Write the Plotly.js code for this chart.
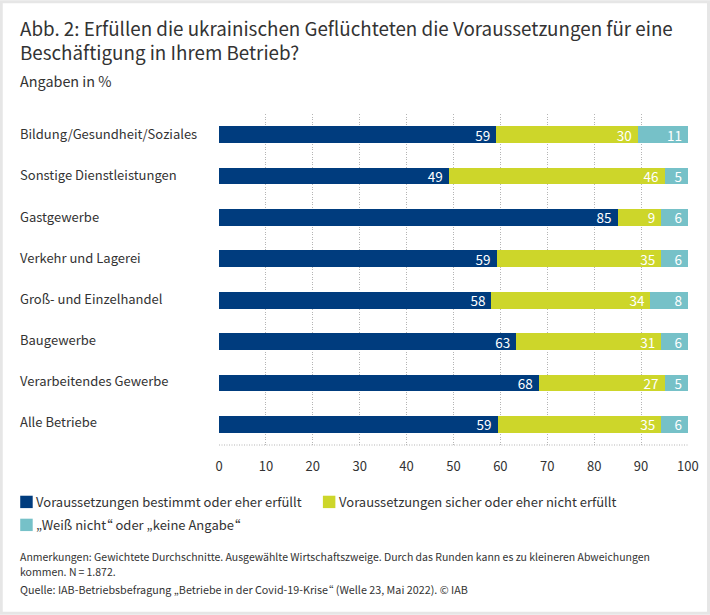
<!DOCTYPE html>
<html><head><meta charset="utf-8">
<script src="https://cdn.plot.ly/plotly-3.0.1.min.js"></script>
<style>html,body{margin:0;padding:0;background:#fff}#c{width:710px;height:615px}
svg text{font-feature-settings:"palt" 1;}</style>
</head><body><div id="c"></div>
<script>
const categories = ["Bildung/Gesundheit/Soziales","Sonstige Dienstleistungen","Gastgewerbe","Verkehr und Lagerei","Groß- und Einzelhandel","Baugewerbe","Verarbeitendes Gewerbe","Alle Betriebe"];
const met = [59.1,49,85,59.2,58.1,63.4,68.2,59.4];
const notMet = [30.2,46,9.3,35.1,33.9,30.9,26.8,34.9];
const unknown = [10.7,5,5.7,5.7,8,5.7,5,5.7];
const metLabels = ["59","49","85","59","58","63","68","59"];
const notMetLabels = ["30","46","9","35","34","31","27","35"];
const unknownLabels = ["11","5","6","6","8","6","5","6"];
const seriesNames = ["Voraussetzungen bestimmt oder eher erfüllt","Voraussetzungen sicher oder eher nicht erfüllt","„Weiß nicht“ oder „keine Angabe“"];
const colors = ["#003c7e","#cdd62a","#76c1c8"];
const xTicks = [0,10,20,30,40,50,60,70,80,90,100];

const F = '"Noto Sans CJK SC","Noto Sans",sans-serif';
const INK = '#333333';
const GRID = '#b5b5b5';
const DOTS = '1px,1.5px';
const W = 710, H = 615, L = 219, R = 21.5, T = 113.5, B = 170;
const pw = W-L-R, ph = H-T-B;
const px = x => (x-L)/pw;
const py = y => 1-(y-T)/ph;

function bar(name, values, labels, color){
  return {type:'bar', orientation:'h', name, y:categories, x:values, text:labels.map(t=>t+'\u00a0'),
    marker:{color, line:{width:0}}, textposition:'inside', insidetextanchor:'end',
    textangle:0, constraintext:'none',
    textfont:{family:F,size:13.5,color:'#ffffff'}, hoverinfo:'skip', cliponaxis:false};
}
const traces = [bar(seriesNames[0],met,metLabels,colors[0]),
                bar(seriesNames[1],notMet,notMetLabels,colors[1]),
                bar(seriesNames[2],unknown,unknownLabels,colors[2])];

function note(text,x,y,size){
  return {text,xref:'paper',yref:'paper',x:px(x-2),y:py(y),xanchor:'left',yanchor:'middle',
    showarrow:false,align:'left',font:{family:F,size,color:INK}};
}
const annotations = [
  note('Angaben in %',20,80,14.4),
  note('Anmerkungen: Gewichtete Durchschnitte. Ausgewählte Wirtschaftszweige. Durch das Runden kann es zu kleineren Abweichungen',20,557,10.5),
  note('kommen. N\u2009=\u20091.872.',20,572,10.5),
  note('Quelle: IAB-Betriebsbefragung „Betriebe in der Covid-19-Krise“ (Welle 23, Mai 2022). © IAB',20,590,10.75),
  note(seriesNames[0],36,502,13),
  note(seriesNames[1],339,502,13),
  note(seriesNames[2],36,525,13)
];
categories.forEach((c,i)=>annotations.push({text:c,xref:'paper',yref:'y',x:px(18),y:c,xanchor:'left',yanchor:'middle',
  yshift:1+i*0.22,showarrow:false,align:'left',font:{family:F,size:13,color:INK}}));

function swatch(x,y,color){
  return {type:'rect',xref:'paper',yref:'paper',x0:px(x),x1:px(x+12.5),y0:py(y-6.2),y1:py(y+6.2),line:{width:0},fillcolor:color};
}

const layout = {
  width:W,height:H,margin:{l:L,r:R,t:T,b:B,pad:0},paper_bgcolor:'#fff',plot_bgcolor:'#fff',
  font:{family:F,color:INK},
  title:{text:'Abb. 2: Erfüllen die ukrainischen Geflüchteten die Voraussetzungen für eine<br>Beschäftigung in Ihrem Betrieb?',
    x:20/W,xref:'container',xanchor:'left',y:1-36/H,yref:'container',yanchor:'middle',font:{family:F,size:18.8,color:INK}},
  barmode:'stack',bargap:0.595,showlegend:false,
  xaxis:{range:[0,100.01],tickvals:xTicks,ticks:'',showline:false,zeroline:false,showgrid:true,griddash:DOTS,gridcolor:GRID,gridwidth:1,
    tickfont:{family:F,size:13,color:INK},ticklabelstandoff:12,automargin:false},
  yaxis:{type:'category',categoryorder:'array',categoryarray:categories,autorange:'reversed',showticklabels:false,ticks:'',showgrid:false,zeroline:false,showline:false,automargin:false},
  annotations,
  shapes:[
    {type:'line',xref:'paper',yref:'paper',x0:0,x1:1,y0:0,y1:0,layer:'below',line:{color:GRID,width:1,dash:DOTS}},
    {type:'rect',xref:'paper',yref:'paper',x0:px(1),x1:px(709),y0:py(1),y1:py(613.5),layer:'below',line:{color:'#e6e6e6',width:3},fillcolor:'rgba(0,0,0,0)'},
    swatch(20,502,colors[0]),swatch(323,502,colors[1]),swatch(20,525,colors[2])
  ]
};
Plotly.newPlot('c',traces,layout,{displayModeBar:false,staticPlot:true});
</script></body></html>
